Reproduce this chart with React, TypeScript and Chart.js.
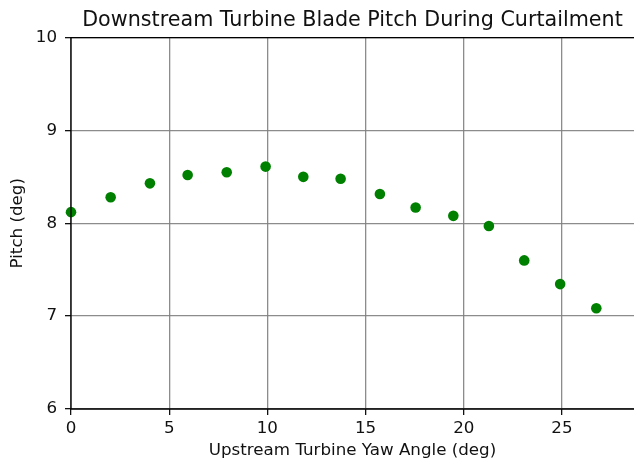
import React, { useEffect, useRef } from "react";
import { Chart, registerables } from "chart.js";

Chart.register(...registerables);

const yawAngles = [0, 2.02, 4.02, 5.94, 7.93, 9.91, 11.83, 13.73, 15.73, 17.55, 19.47, 21.28, 23.08, 24.91, 26.75];
const pitchValues = [8.12, 8.28, 8.43, 8.52, 8.55, 8.61, 8.5, 8.48, 8.315, 8.17, 8.08, 7.97, 7.6, 7.345, 7.085];
const titleText = "Downstream Turbine Blade Pitch During Curtailment";
const xLabel = "Upstream Turbine Yaw Angle (deg)";
const yLabel = "Pitch (deg)";

const FONT = "'DejaVu Sans', sans-serif";

const framePlugin = {
  id: "frame",
  afterDatasetsDraw(chart: any) {
    const { ctx, chartArea } = chart;
    const { left, right, top, bottom } = chartArea;
    ctx.save();
    ctx.strokeStyle = "#000";
    ctx.lineWidth = 1.3;
    ctx.beginPath();
    ctx.moveTo(right + 5, top);
    ctx.lineTo(left, top);
    ctx.lineTo(left, bottom);
    ctx.lineTo(right + 5, bottom);
    ctx.stroke();
    ctx.restore();
  },
};

export default function App() {
  const ref = useRef<HTMLCanvasElement | null>(null);
  useEffect(() => {
    if (!ref.current) return;
    const chart = new Chart(ref.current, {
      type: "scatter",
      data: {
        datasets: [
          {
            data: yawAngles.map((x, i) => ({ x, y: pitchValues[i] })),
            backgroundColor: "#008000",
            borderColor: "#008000",
            pointRadius: 5.3,
            pointHoverRadius: 5.3,
            borderWidth: 0,
            clip: false,
          },
        ],
      },
      options: {
        responsive: false,
        animation: false,
        events: [],
        layout: { autoPadding: false, padding: { left: 0, right: 0, top: 0, bottom: 0 } },
        plugins: {
          legend: { display: false },
          tooltip: { enabled: false },
          title: {
            display: true,
            text: titleText,
            fullSize: false,
            color: "#111",
            font: { family: FONT, size: 20.7, weight: "normal" },
            padding: { top: 8.5, bottom: 4.2 },
          },
        },
        scales: {
          x: {
            type: "linear",
            min: 0,
            max: 28.67,
            afterFit: (s: any) => { s.height = 52; s.paddingLeft = 0; s.paddingRight = 0; },
            ticks: { stepSize: 5, includeBounds: false, color: "#111", padding: 4, font: { family: FONT, size: 16.7 } },
            grid: { color: "rgba(128,128,128,0.9)", lineWidth: 1.3, tickLength: 6, tickColor: "#111" },
            border: { display: false },
            title: { display: true, text: xLabel, color: "#111", font: { family: FONT, size: 16.7 }, padding: { top: 0, bottom: 0.5 } },
          },
          y: {
            type: "linear",
            min: 6,
            max: 10,
            afterFit: (s: any) => { s.width = 71; },
            ticks: { stepSize: 1, color: "#111", padding: 8, font: { family: FONT, size: 16.7 } },
            grid: { color: "rgba(128,128,128,0.9)", lineWidth: 1.3, tickLength: 6, tickColor: "#111" },
            border: { display: false },
            title: { display: true, text: yLabel, color: "#111", font: { family: FONT, size: 16.7 }, padding: { top: 8, bottom: 0 } },
          },
        },
      },
      plugins: [framePlugin],
    });
    return () => chart.destroy();
  }, []);
  return (
    <div style={{ position: "fixed", left: 0, top: 0, width: 634, height: 461, overflow: "hidden", background: "#fff" }}>
      <canvas ref={ref} width={634} height={461} style={{ display: "block", width: 634, height: 461 }} />
    </div>
  );
}
